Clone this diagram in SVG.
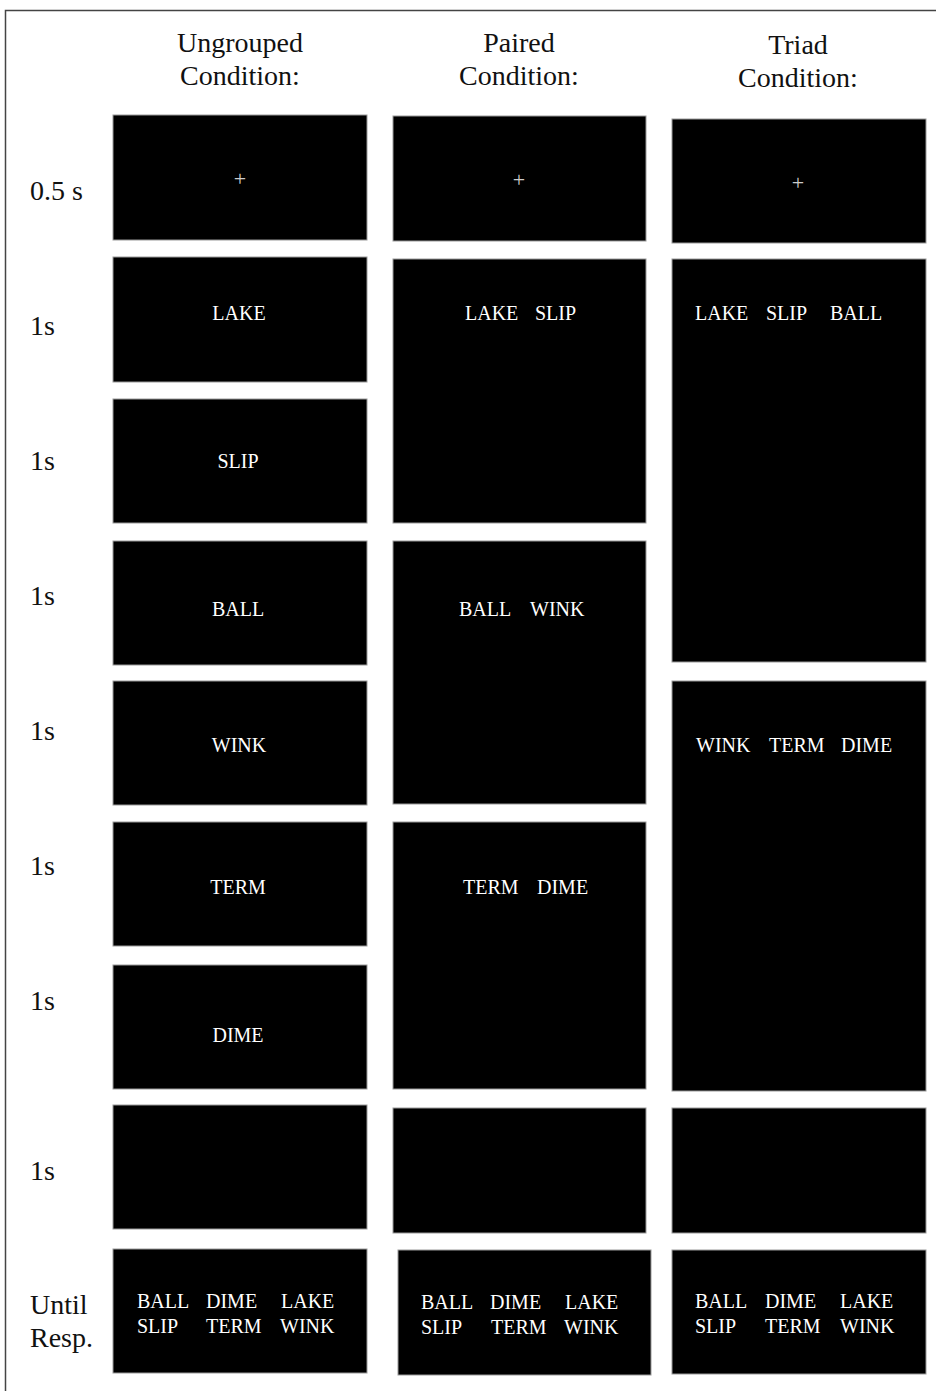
<svg xmlns="http://www.w3.org/2000/svg" width="936" height="1391" viewBox="0 0 936 1391">
<style>
.scr{fill:#000;stroke:#999;stroke-width:1}
.w{font-family:"Liberation Serif","Times New Roman",serif;font-size:20px;fill:#fff}
.fx{font-family:"Liberation Serif","Times New Roman",serif;font-size:22px;fill:#ccc;text-anchor:middle}
.h{font-family:"Liberation Serif","Times New Roman",serif;font-size:28px;fill:#111;text-anchor:middle}
.lab{font-family:"Liberation Serif","Times New Roman",serif;font-size:28px;fill:#111}
</style>
<rect x="0" y="0" width="936" height="1391" fill="#fff"/>
<path d="M5.5,1391 V10.5 H936" fill="none" stroke="#444" stroke-width="1.5"/>
<g id="headers">
<text class="h" x="240" y="52">Ungrouped</text><text class="h" x="240" y="85">Condition:</text>
<text class="h" x="519" y="52">Paired</text><text class="h" x="519" y="85">Condition:</text>
<text class="h" x="798" y="54">Triad</text><text class="h" x="798" y="87">Condition:</text>
</g>
<g id="row-labels">
<text class="lab" x="30" y="200">0.5 s</text>
<text class="lab" x="30" y="335">1s</text>
<text class="lab" x="30" y="470">1s</text>
<text class="lab" x="30" y="605">1s</text>
<text class="lab" x="30" y="740">1s</text>
<text class="lab" x="30" y="875">1s</text>
<text class="lab" x="30" y="1010">1s</text>
<text class="lab" x="30" y="1180">1s</text>
<text class="lab" x="30" y="1314">Until</text>
<text class="lab" x="30" y="1347">Resp.</text>
</g>
<g id="ungrouped">
<g id="u-fix"><rect class="scr" x="113" y="115" width="254" height="125"/><text class="fx" x="240" y="186">+</text></g>
<g id="u-lake"><rect class="scr" x="113" y="257" width="254" height="125"/><text class="w" x="239" y="320" text-anchor="middle">LAKE</text></g>
<g id="u-slip"><rect class="scr" x="113" y="399" width="254" height="124"/><text class="w" x="238" y="468" text-anchor="middle">SLIP</text></g>
<g id="u-ball"><rect class="scr" x="113" y="541" width="254" height="124"/><text class="w" x="238" y="616" text-anchor="middle">BALL</text></g>
<g id="u-wink"><rect class="scr" x="113" y="681" width="254" height="124"/><text class="w" x="239" y="752" text-anchor="middle">WINK</text></g>
<g id="u-term"><rect class="scr" x="113" y="822" width="254" height="124"/><text class="w" x="238" y="894" text-anchor="middle">TERM</text></g>
<g id="u-dime"><rect class="scr" x="113" y="965" width="254" height="124"/><text class="w" x="238" y="1042" text-anchor="middle">DIME</text></g>
<g id="u-blank"><rect class="scr" x="113" y="1105" width="254" height="124"/></g>
<g id="u-resp"><rect class="scr" x="113" y="1249" width="254" height="124"/>
<text class="w" y="1308"><tspan x="137">BALL</tspan><tspan x="206">DIME</tspan><tspan x="281">LAKE</tspan></text>
<text class="w" y="1333"><tspan x="137">SLIP</tspan><tspan x="206">TERM</tspan><tspan x="280">WINK</tspan></text></g>
</g>
<g id="paired">
<g id="p-fix"><rect class="scr" x="393" y="116" width="253" height="125"/><text class="fx" x="519" y="187">+</text></g>
<g id="p-lake-slip"><rect class="scr" x="393" y="259" width="253" height="264"/><text class="w" y="320"><tspan x="465">LAKE</tspan><tspan x="535">SLIP</tspan></text></g>
<g id="p-ball-wink"><rect class="scr" x="393" y="541" width="253" height="263"/><text class="w" y="616"><tspan x="459">BALL</tspan><tspan x="530">WINK</tspan></text></g>
<g id="p-term-dime"><rect class="scr" x="393" y="822" width="253" height="267"/><text class="w" y="894"><tspan x="463">TERM</tspan><tspan x="537">DIME</tspan></text></g>
<g id="p-blank"><rect class="scr" x="393" y="1108" width="253" height="125"/></g>
<g id="p-resp"><rect class="scr" x="398" y="1250" width="253" height="125"/>
<text class="w" y="1309"><tspan x="421">BALL</tspan><tspan x="490">DIME</tspan><tspan x="565">LAKE</tspan></text>
<text class="w" y="1334"><tspan x="421">SLIP</tspan><tspan x="491">TERM</tspan><tspan x="564">WINK</tspan></text></g>
</g>
<g id="triad">
<g id="t-fix"><rect class="scr" x="672" y="119" width="254" height="124"/><text class="fx" x="798" y="190">+</text></g>
<g id="t-lake-slip-ball"><rect class="scr" x="672" y="259" width="254" height="403"/><text class="w" y="320"><tspan x="695">LAKE</tspan><tspan x="766">SLIP</tspan><tspan x="830">BALL</tspan></text></g>
<g id="t-wink-term-dime"><rect class="scr" x="672" y="681" width="254" height="410"/><text class="w" y="752"><tspan x="696">WINK</tspan><tspan x="769">TERM</tspan><tspan x="841">DIME</tspan></text></g>
<g id="t-blank"><rect class="scr" x="672" y="1108" width="254" height="125"/></g>
<g id="t-resp"><rect class="scr" x="672" y="1250" width="254" height="124"/>
<text class="w" y="1308"><tspan x="695">BALL</tspan><tspan x="765">DIME</tspan><tspan x="840">LAKE</tspan></text>
<text class="w" y="1333"><tspan x="695">SLIP</tspan><tspan x="765">TERM</tspan><tspan x="840">WINK</tspan></text></g>
</g>
<g id="connectors"/>
</svg>
